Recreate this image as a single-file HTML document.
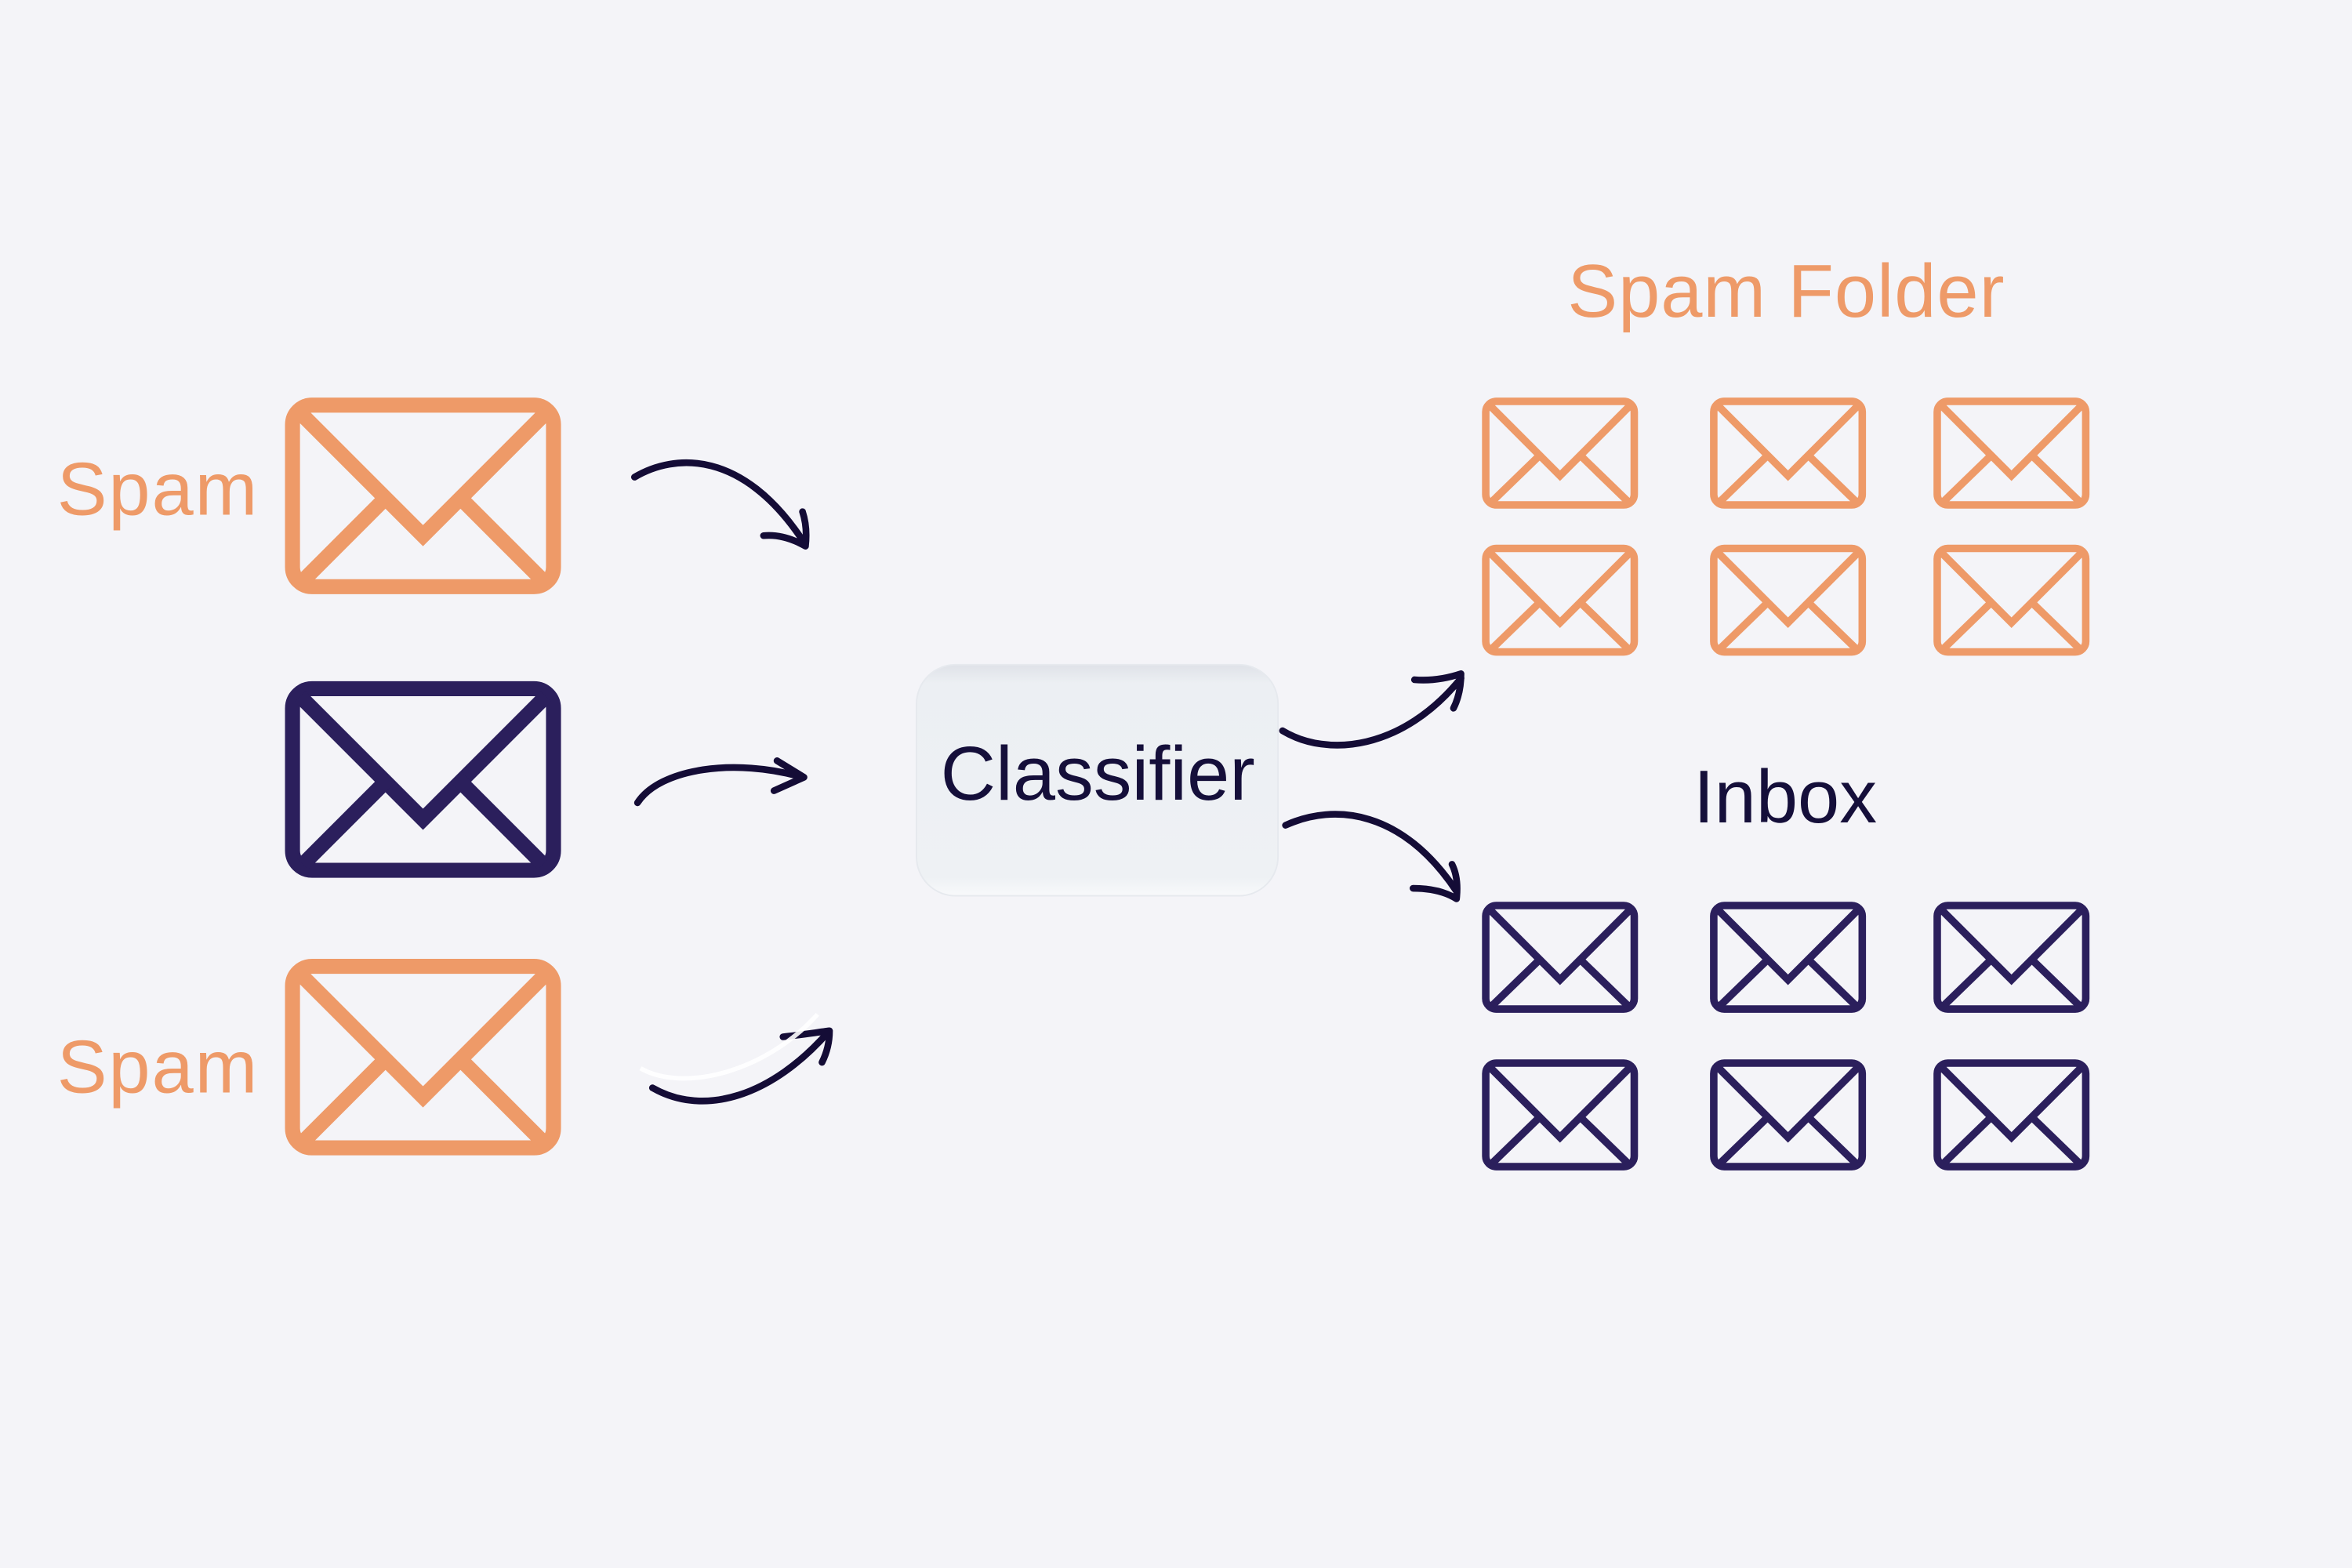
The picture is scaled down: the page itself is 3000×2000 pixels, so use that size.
<!DOCTYPE html>
<html><head><meta charset="utf-8"><style>
html,body{margin:0;padding:0;background:#f4f4f8;}
svg{display:block;}
</style></head><body>
<svg width="3000" height="2000" viewBox="0 0 1568 1045" preserveAspectRatio="none" xmlns="http://www.w3.org/2000/svg">
<defs>
<linearGradient id="cg" x1="0" y1="0" x2="0" y2="1">
<stop offset="0" stop-color="#dfe2e8"/><stop offset="0.08" stop-color="#eceff3"/><stop offset="0.92" stop-color="#eef1f4"/><stop offset="1" stop-color="#f8f9fb"/>
</linearGradient>
<symbol id="envL" viewBox="0 0 184 131" overflow="visible">
<rect x="5" y="5" width="174" height="121" rx="13" fill="none" stroke="currentColor" stroke-width="10"/>
<polyline points="10,10 92,92 174,10" fill="none" stroke="currentColor" stroke-width="10" stroke-linejoin="miter"/>
<line x1="12" y1="122" x2="70" y2="64" stroke="currentColor" stroke-width="10"/>
<line x1="172" y1="122" x2="114" y2="64" stroke="currentColor" stroke-width="10"/>
</symbol>
<symbol id="envS" viewBox="0 0 104 74" overflow="visible">
<rect x="2.5" y="2.5" width="99" height="69" rx="7" fill="none" stroke="currentColor" stroke-width="5"/>
<polyline points="6,6 52,52 98,6" fill="none" stroke="currentColor" stroke-width="5"/>
<line x1="7" y1="69" x2="40" y2="37" stroke="currentColor" stroke-width="5"/>
<line x1="97" y1="69" x2="64" y2="37" stroke="currentColor" stroke-width="5"/>
</symbol>
</defs>
<rect width="1568" height="1045" fill="#f4f4f8"/>

<g font-family="Liberation Sans, sans-serif" font-size="50">
<text x="38" y="343" fill="#ee9a68" letter-spacing="1">Spam</text>
<text x="38" y="728" fill="#ee9a68" letter-spacing="1">Spam</text>
<text x="1045" y="211" fill="#ee9a68" letter-spacing="0.5">Spam Folder</text>
<text x="1129" y="548" fill="#150f3a">Inbox</text>
</g>

<use href="#envL" x="190" y="265" width="184" height="131" color="#ee9a68"/>
<use href="#envL" x="190" y="454" width="184" height="131" color="#2b1f5c"/>
<use href="#envL" x="190" y="639" width="184" height="131" color="#ee9a68"/>

<g color="#ee9a68">
<use href="#envS" x="988" y="265" width="104" height="74"/>
<use href="#envS" x="1140" y="265" width="104" height="74"/>
<use href="#envS" x="1289" y="265" width="104" height="74"/>
<use href="#envS" x="988" y="363" width="104" height="74"/>
<use href="#envS" x="1140" y="363" width="104" height="74"/>
<use href="#envS" x="1289" y="363" width="104" height="74"/>
</g>
<g color="#2b1f5c">
<use href="#envS" x="988" y="601" width="104" height="74"/>
<use href="#envS" x="1140" y="601" width="104" height="74"/>
<use href="#envS" x="1289" y="601" width="104" height="74"/>
<use href="#envS" x="988" y="706" width="104" height="74"/>
<use href="#envS" x="1140" y="706" width="104" height="74"/>
<use href="#envS" x="1289" y="706" width="104" height="74"/>
</g>

<rect x="611" y="443" width="241" height="154" rx="26" fill="url(#cg)" stroke="#e6e9ee" stroke-width="1"/>
<text x="627" y="533" font-family="Liberation Sans, sans-serif" font-size="51" fill="#150f3a">Classifier</text>

<g fill="none" stroke="#140c36" stroke-width="4.5" stroke-linecap="round" stroke-linejoin="round">
<path d="M423,318 C450,302 495,300 535,360"/>
<path d="M509,357 C520,356 530,360 537,364 M537,364 C538,355 537,347 535,341"/>
<path d="M425,535 C440,512 490,505 535,518"/>
<path d="M518,507 L536,518 L516,527"/>
<path d="M435,725 C470,745 515,730 552,688"/>
<path d="M522,691 C532,690 545,688 553,687 C553,695 551,702 548,708"/>
<path d="M855,487 C885,505 935,500 974,452"/>
<path d="M943,453 C955,454 965,452 974,449 C974,458 972,466 969,472"/>
<path d="M857,550 C890,535 935,540 971,594"/>
<path d="M942,592 C953,592 963,594 971,599 C972,590 971,582 968,576"/>
</g>
<path d="M427,712 C455,728 510,715 545,676" fill="none" stroke="#ffffff" stroke-width="3" opacity="0.9"/>
</svg>
</body></html>
